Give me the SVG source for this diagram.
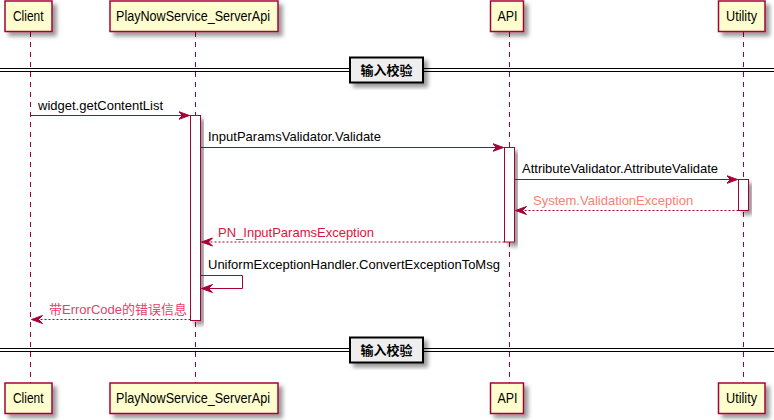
<svg xmlns="http://www.w3.org/2000/svg" width="774" height="420" viewBox="0 0 774 420">
<defs>
<filter id="sh" x="-20%" y="-20%" width="150%" height="150%">
<feGaussianBlur in="SourceAlpha" stdDeviation="2"/>
<feOffset dx="4" dy="4" result="b"/>
<feComponentTransfer><feFuncA type="linear" slope="0.4"/></feComponentTransfer>
<feMerge><feMergeNode/><feMergeNode in="SourceGraphic"/></feMerge>
</filter>
<marker id="ah" markerWidth="12" markerHeight="10" refX="11" refY="5" orient="auto" markerUnits="userSpaceOnUse">
<polygon points="0,1 11,5 0,9 4,5" fill="#A80036" stroke="#A80036" stroke-width="1"/>
</marker>
</defs>
<style>
.box{fill:#FEFECE;stroke:#A80036;stroke-width:1.5}
.life{stroke:#A80036;stroke-width:1;stroke-dasharray:5,5;fill:none}
.act{fill:#FFFFFF;stroke:#A80036;stroke-width:1}
.msg{stroke:#A80036;stroke-width:1;fill:none}
.ret{stroke:#A80036;stroke-width:1;stroke-dasharray:2,2;fill:none}
.pt{font-family:"Liberation Sans",Arial,sans-serif;font-size:14px;fill:#000}
.mt{font-family:"Liberation Sans","Noto Sans CJK SC",sans-serif;font-size:13px;fill:#000}
.div{fill:#EEEEEE;stroke:#000;stroke-width:2}
.dl{stroke:#000;stroke-width:1}
.dt{font-family:"Noto Sans CJK SC",sans-serif;font-size:13px;font-weight:bold;fill:#000}
</style>
<g id="lifelines">
<line class="life" x1="30.5" y1="32" x2="30.5" y2="383"/>
<line class="life" x1="195.5" y1="32" x2="195.5" y2="383"/>
<line class="life" x1="509.5" y1="32" x2="509.5" y2="383"/>
<line class="life" x1="743.5" y1="32" x2="743.5" y2="383"/>
</g>
<g id="Client">
<rect class="box" x="5" y="1" width="47" height="30.5" filter="url(#sh)"/>
<text class="pt" x="13" y="21" textLength="30.5" lengthAdjust="spacingAndGlyphs">Client</text>
<rect class="box" x="5" y="383" width="47" height="30.5" filter="url(#sh)"/>
<text class="pt" x="13" y="403" textLength="30.5" lengthAdjust="spacingAndGlyphs">Client</text>
</g>
<g id="PlayNowService_ServerApi">
<rect class="box" x="110" y="1" width="168" height="30.5" filter="url(#sh)"/>
<text class="pt" x="116" y="21" textLength="154" lengthAdjust="spacingAndGlyphs">PlayNowService_ServerApi</text>
<rect class="box" x="110" y="383" width="168" height="30.5" filter="url(#sh)"/>
<text class="pt" x="116" y="403" textLength="154" lengthAdjust="spacingAndGlyphs">PlayNowService_ServerApi</text>
</g>
<g id="API">
<rect class="box" x="490.5" y="1" width="33" height="30.5" filter="url(#sh)"/>
<text class="pt" x="497.5" y="21" textLength="20" lengthAdjust="spacingAndGlyphs">API</text>
<rect class="box" x="490.5" y="383" width="33" height="30.5" filter="url(#sh)"/>
<text class="pt" x="497.5" y="403" textLength="20" lengthAdjust="spacingAndGlyphs">API</text>
</g>
<g id="Utility">
<rect class="box" x="718.5" y="1" width="46.5" height="30.5" filter="url(#sh)"/>
<text class="pt" x="726" y="21" textLength="31" lengthAdjust="spacingAndGlyphs">Utility</text>
<rect class="box" x="718.5" y="383" width="46.5" height="30.5" filter="url(#sh)"/>
<text class="pt" x="726" y="403" textLength="31" lengthAdjust="spacingAndGlyphs">Utility</text>
</g>
<g id="activations">
<rect class="act" x="190.5" y="115.5" width="10" height="205" filter="url(#sh)"/>
<rect class="act" x="504.5" y="147.5" width="10" height="94.5" filter="url(#sh)"/>
<rect class="act" x="738.5" y="179.5" width="10" height="31" filter="url(#sh)"/>
</g>
<g id="divider1">
<line class="dl" x1="0" y1="68.5" x2="774" y2="68.5"/>
<line class="dl" x1="0" y1="71.5" x2="774" y2="71.5"/>
<rect class="div" x="350" y="57.5" width="73" height="25" filter="url(#sh)"/>
<text class="dt" x="386.5" y="75" text-anchor="middle">输入校验</text>
</g>
<g id="divider2">
<line class="dl" x1="0" y1="348.5" x2="774" y2="348.5"/>
<line class="dl" x1="0" y1="351.5" x2="774" y2="351.5"/>
<rect class="div" x="350" y="337.5" width="73" height="25" filter="url(#sh)"/>
<text class="dt" x="386.5" y="355" text-anchor="middle">输入校验</text>
</g>
<g id="connectors">
<line class="msg" x1="30.5" y1="115.5" x2="189.5" y2="115.5" marker-end="url(#ah)"/>
<text class="mt" x="38" y="110">widget.getContentList</text>
<line class="msg" x1="200.5" y1="147.5" x2="503.5" y2="147.5" marker-end="url(#ah)"/>
<text class="mt" x="208" y="141">InputParamsValidator.Validate</text>
<line class="msg" x1="514.5" y1="179.5" x2="737.5" y2="179.5" marker-end="url(#ah)"/>
<text class="mt" x="522" y="173">AttributeValidator.AttributeValidate</text>
<line class="ret" x1="738.5" y1="210.5" x2="515.5" y2="210.5" marker-end="url(#ah)"/>
<text class="mt" x="533" y="205" style="fill:#FA8072">System.ValidationException</text>
<line class="ret" x1="504.5" y1="242" x2="201.5" y2="242" marker-end="url(#ah)"/>
<text class="mt" x="218" y="236.5" style="fill:#DC143C">PN_InputParamsException</text>
<polyline class="msg" points="200.5,275.5 242.5,275.5 242.5,288.5 201.5,288.5" marker-end="url(#ah)"/>
<text class="mt" x="208" y="269">UniformExceptionHandler.ConvertExceptionToMsg</text>
<line class="ret" x1="190.5" y1="319.5" x2="31.5" y2="319.5" marker-end="url(#ah)"/>
<text class="mt" x="49" y="313.5" style="fill:#E8406A">带ErrorCode的错误信息</text>
</g>
</svg>
